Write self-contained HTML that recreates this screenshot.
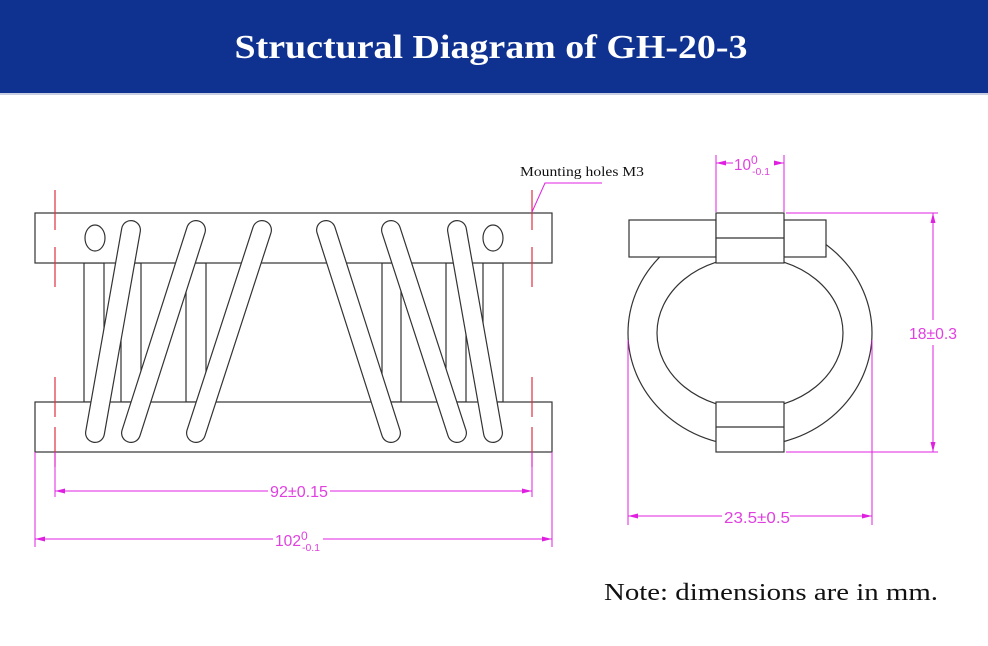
<!DOCTYPE html>
<html><head><meta charset="utf-8"><style>
html,body{margin:0;padding:0;background:#fff;width:988px;height:646px;overflow:hidden}
svg{display:block}
</style></head><body>
<svg width="988" height="646" viewBox="0 0 988 646" xmlns="http://www.w3.org/2000/svg">
<rect x="0" y="0" width="988" height="93" fill="#0f3190"/>
<rect x="0" y="93" width="988" height="2" fill="#c8cfe0"/>
<text x="491" y="58" text-anchor="middle" fill="#fff" font-family="Liberation Serif, serif" font-weight="bold" font-size="34" textLength="513" lengthAdjust="spacingAndGlyphs">Structural Diagram of GH-20-3</text>

<g fill="none" stroke="#333" stroke-width="1.2">
<!-- posts -->
<rect x="84" y="263" width="20" height="139" fill="#fff"/>
<rect x="121" y="263" width="20" height="139" fill="#fff"/>
<rect x="186" y="263" width="20" height="139" fill="#fff"/>
<rect x="382" y="263" width="19" height="139" fill="#fff"/>
<rect x="446" y="263" width="20" height="139" fill="#fff"/>
<rect x="483" y="263" width="20" height="139" fill="#fff"/>
<!-- bars -->
<rect x="35" y="213" width="517" height="50" fill="#fff"/>
<rect x="35" y="402" width="517" height="50" fill="#fff"/>
<ellipse cx="95" cy="238" rx="10" ry="13"/>
<ellipse cx="493" cy="238" rx="10" ry="13"/>
</g>
<!-- coils -->
<g stroke-linecap="round">
<g stroke="#333" stroke-width="20">
<line x1="131" y1="230" x2="95" y2="433"/>
<line x1="196" y1="230" x2="131" y2="433"/>
<line x1="262" y1="230" x2="196" y2="433"/>
<line x1="326" y1="230" x2="391" y2="433"/>
<line x1="391" y1="230" x2="457" y2="433"/>
<line x1="457" y1="230" x2="493" y2="433"/>
</g>
<g stroke="#fff" stroke-width="17.6">
<line x1="131" y1="230" x2="95" y2="433"/>
<line x1="196" y1="230" x2="131" y2="433"/>
<line x1="262" y1="230" x2="196" y2="433"/>
<line x1="326" y1="230" x2="391" y2="433"/>
<line x1="391" y1="230" x2="457" y2="433"/>
<line x1="457" y1="230" x2="493" y2="433"/>
</g>
</g>
<!-- red centerlines -->
<g stroke="#e03040" stroke-width="1.2" stroke-dasharray="40,17,40,90,40,10,40">
<line x1="55" y1="190" x2="55" y2="470"/>
<line x1="532" y1="190" x2="532" y2="470"/>
</g>
<!-- mounting leader -->
<text x="520" y="176" font-family="Liberation Serif, serif" font-size="13.5" fill="#111" textLength="124" lengthAdjust="spacingAndGlyphs">Mounting holes M3</text>
<polyline points="532,212 545,183 602,183" fill="none" stroke="#e020e0" stroke-width="1"/>

<!-- left dimensions -->
<g stroke="#e020e0" stroke-width="1" fill="none">
<line x1="55" y1="452" x2="55" y2="497"/>
<line x1="532" y1="452" x2="532" y2="497"/>
<line x1="55" y1="491" x2="268" y2="491"/>
<line x1="330" y1="491" x2="532" y2="491"/>
<line x1="35" y1="452" x2="35" y2="547"/>
<line x1="552" y1="452" x2="552" y2="547"/>
<line x1="35" y1="539" x2="273" y2="539"/>
<line x1="323" y1="539" x2="552" y2="539"/>
</g>
<g fill="#e020e0">
<polygon points="55,491 65,488.5 65,493.5"/>
<polygon points="532,491 522,488.5 522,493.5"/>
<polygon points="35,539 45,536.5 45,541.5"/>
<polygon points="552,539 542,536.5 542,541.5"/>
</g>
<g font-family="Liberation Sans, sans-serif" fill="#e040e0">
<text x="270" y="497" font-size="16" textLength="58" lengthAdjust="spacingAndGlyphs">92±0.15</text>
<text x="275" y="546" font-size="16" textLength="26" lengthAdjust="spacingAndGlyphs">102</text>
<text x="301" y="540" font-size="12">0</text>
<text x="302" y="551" font-size="10" textLength="18" lengthAdjust="spacingAndGlyphs">-0.1</text>
</g>

<!-- right view -->
<g fill="none" stroke="#333" stroke-width="1.2">
<ellipse cx="750" cy="333" rx="122" ry="113"/>
<ellipse cx="750" cy="333" rx="93" ry="76" fill="#fff"/>
<rect x="629" y="220" width="87" height="37" fill="#fff"/>
<rect x="784" y="220" width="42" height="37" fill="#fff"/>
<rect x="716" y="213" width="68" height="50" fill="#fff"/>
<line x1="716" y1="238" x2="784" y2="238"/>
<rect x="716" y="402" width="68" height="50" fill="#fff"/>
<line x1="716" y1="427" x2="784" y2="427"/>
</g>
<g stroke="#e020e0" stroke-width="1" fill="none">
<line x1="716" y1="155" x2="716" y2="212"/>
<line x1="784" y1="155" x2="784" y2="212"/>
<line x1="716" y1="163" x2="733" y2="163"/>
<line x1="775" y1="163" x2="784" y2="163"/>
<line x1="786" y1="213" x2="938" y2="213"/>
<line x1="786" y1="452" x2="938" y2="452"/>
<line x1="933" y1="213" x2="933" y2="320"/>
<line x1="933" y1="345" x2="933" y2="452"/>
<line x1="628" y1="340" x2="628" y2="525"/>
<line x1="872" y1="340" x2="872" y2="525"/>
<line x1="628" y1="516" x2="722" y2="516"/>
<line x1="790" y1="516" x2="872" y2="516"/>
</g>
<g fill="#e020e0">
<polygon points="716,163 726,160.5 726,165.5"/>
<polygon points="784,163 774,160.5 774,165.5"/>
<polygon points="933,213 930.5,223 935.5,223"/>
<polygon points="933,452 930.5,442 935.5,442"/>
<polygon points="628,516 638,513.5 638,518.5"/>
<polygon points="872,516 862,513.5 862,518.5"/>
</g>
<g font-family="Liberation Sans, sans-serif" fill="#e040e0">
<text x="734" y="170" font-size="16" textLength="17" lengthAdjust="spacingAndGlyphs">10</text>
<text x="751" y="164" font-size="12">0</text>
<text x="752" y="175" font-size="10" textLength="18" lengthAdjust="spacingAndGlyphs">-0.1</text>
<text x="909" y="339" font-size="16" textLength="48" lengthAdjust="spacingAndGlyphs">18±0.3</text>
<text x="724" y="523" font-size="16" textLength="66" lengthAdjust="spacingAndGlyphs">23.5±0.5</text>
</g>

<text x="604" y="600" font-family="Liberation Serif, serif" font-size="24" fill="#111" textLength="334" lengthAdjust="spacingAndGlyphs">Note: dimensions are in mm.</text>
</svg>
</body></html>
